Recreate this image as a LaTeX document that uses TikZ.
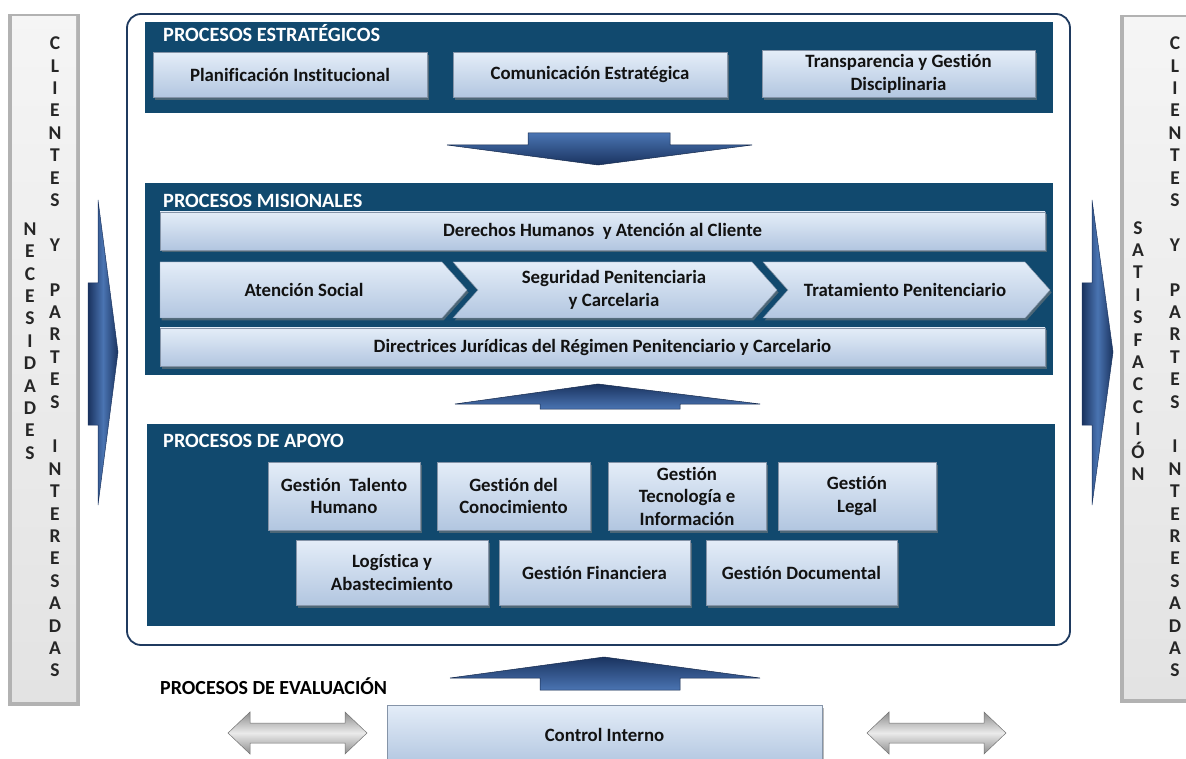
\documentclass[tikz,border=0pt]{standalone}
\usepackage{fontspec}
\setmainfont{Carlito}[Ligatures=NoCommon]
\usetikzlibrary{shadows}

\definecolor{panel}{HTML}{11496E}
\definecolor{framec}{HTML}{1F3A5F}
\definecolor{boxtop}{HTML}{E4EDF8}
\definecolor{boxbot}{HTML}{B2C6E0}
\definecolor{arrdark}{HTML}{1A335F}
\definecolor{arrlight}{HTML}{4A74B2}
\definecolor{txt}{HTML}{121212}

\begin{document}
\begin{tikzpicture}[x=1pt,y=-1pt,
  panelbox/.style={fill=panel, draw=none},
  ptitle/.style={text=white, font=\fontsize{20.3}{22}\selectfont\bfseries, anchor=west, inner sep=0pt},
  lightfill/.style={draw=boxbot!75!black, line width=0.4pt, top color=boxtop, bottom color=boxbot,
     drop shadow={shadow xshift=1.5pt, shadow yshift=-2.5pt, opacity=0.55}},
  lbox/.style={lightfill, rectangle, text=txt, font=\fontsize{18.8}{22.5}\selectfont\bfseries, align=center, inner sep=0pt},
  btext/.style={text=txt, font=\fontsize{18.8}{22.5}\selectfont\bfseries, align=center, inner sep=0pt},
  coltext/.style={text=black!85, font=\fontsize{19.5}{22.4}\selectfont\bfseries, align=center, inner sep=0pt},
  sidecol/.style={fill=black!30, draw=none},
  sideinner/.style={top color=black!4, bottom color=black!11, draw=none},
  varrow/.style={left color=arrdark, right color=arrdark, middle color=arrlight, draw=arrdark, line width=0.5pt},
  downarrow/.style={top color=arrlight, bottom color=arrdark, draw=arrdark!80!black, line width=0.5pt},
  uparrow/.style={top color=arrdark, bottom color=arrlight, draw=arrdark!80!black, line width=0.5pt},
  grayarrow/.style={top color=black!45, bottom color=black!45, middle color=black!8, draw=black!55, line width=0.5pt}
]
\useasboundingbox (0,0) rectangle (1186,759);

% ---------- side columns ----------
\path[sidecol] (8,14) rectangle (80,706);
\path[sideinner] (12,17) rectangle (76,701);
\node[coltext] (lneed) at (30,341) {N\\E\\C\\E\\S\\I\\D\\A\\D\\E\\S};
\node[coltext] (lcli) at (55,357) {C\\L\\I\\E\\N\\T\\E\\S\\~\\Y\\~\\P\\A\\R\\T\\E\\S\\~\\I\\N\\T\\E\\R\\E\\S\\A\\D\\A\\S};

\path[sidecol] (1120,15) rectangle (1186,703);
\path[sideinner] (1124,18) rectangle (1186,698);
\node[coltext] (rsat) at (1138,351) {S\\A\\T\\I\\S\\F\\A\\C\\C\\I\\Ó\\N};
\node[coltext] (rcli) at (1175,357) {C\\L\\I\\E\\N\\T\\E\\S\\~\\Y\\~\\P\\A\\R\\T\\E\\S\\~\\I\\N\\T\\E\\R\\E\\S\\A\\D\\A\\S};

% ---------- side blue arrows ----------
\path[varrow] (88,283) -- (98,283) -- (98,200) -- (118,352) -- (98,505) -- (98,425) -- (88,425) -- cycle;
\path[varrow] (1082,283) -- (1092,283) -- (1092,200) -- (1113,352) -- (1092,505) -- (1092,425) -- (1082,425) -- cycle;

% ---------- main frame ----------
\draw[framec, line width=1.8pt, rounded corners=14pt] (127,14) rectangle (1070,645);

% ---------- strategic ----------
\path[panelbox] (145,22) rectangle (1053,113);
\node[ptitle] (tstrat) at (163,33) {PROCESOS ESTRATÉGICOS};
\node[lbox, minimum width=274, minimum height=45] (plan) at (290,75) {Planificación Institucional};
\node[lbox, minimum width=274, minimum height=45] (comu) at (590,75) {Comunicación Estratégica};
\node[lbox, minimum width=273, minimum height=47] (trans) at (898.5,74) {Transparencia y Gestión\\Disciplinaria};

% down arrow
\path[downarrow] (447,145) -- (528,145) -- (528,133) -- (670,133) -- (670,145) -- (752,145) -- (598,165) -- cycle;

% ---------- misional ----------
\path[panelbox] (145,183) rectangle (1053,375);
\node[ptitle] (tmis) at (163,201) {PROCESOS MISIONALES};
\node[lbox, minimum width=885, minimum height=38] (ddhh) at (602.5,231) {Derechos Humanos~ y Atención al Cliente};
\path[lightfill] (160,262) -- (442,262) -- (467,290) -- (442,318) -- (160,318) -- cycle;
\node[btext] (aten) at (304,290) {Atención Social};
\path[lightfill] (453,262) -- (752,262) -- (777,290) -- (752,318) -- (453,318) -- (478,290) -- cycle;
\node[btext] (segu) at (614,290) {Seguridad Penitenciaria\\y Carcelaria};
\path[lightfill] (763,262) -- (1025,262) -- (1050,290) -- (1025,318) -- (763,318) -- (788,290) -- cycle;
\node[btext] (trat) at (905,290) {Tratamiento Penitenciario};
\node[lbox, minimum width=885, minimum height=38] (direc) at (602.5,347) {Directrices Jurídicas del Régimen Penitenciario y Carcelario};

% up arrow
\path[uparrow] (455,404) -- (598,384) -- (760,404) -- (680,404) -- (680,409) -- (540,409) -- (540,404) -- cycle;

% ---------- apoyo ----------
\path[panelbox] (147,424) rectangle (1055,626);
\node[ptitle] (tapo) at (163,441) {PROCESOS DE APOYO};
\node[lbox, minimum width=152, minimum height=68] (tal) at (344,496) {Gestión~~Talento\\Humano};
\node[lbox, minimum width=153, minimum height=68] (cono) at (513.5,496) {Gestión del\\Conocimiento};
\node[lbox, minimum width=158, minimum height=68] (tec) at (687,496) {Gestión\\Tecnología e\\Información};
\node[lbox, minimum width=158, minimum height=68] (leg) at (857,496) {Gestión\\Legal};
\node[lbox, minimum width=192, minimum height=65] (log) at (392,572.5) {Logística y\\Abastecimiento};
\node[lbox, minimum width=191, minimum height=65] (fin) at (594.5,572.5) {Gestión Financiera};
\node[lbox, minimum width=191, minimum height=65] (doc) at (801.5,572.5) {Gestión Documental};

% ---------- evaluation ----------
\path[uparrow] (450,678) -- (604,657) -- (760,678) -- (680,678) -- (680,690) -- (540,690) -- (540,678) -- cycle;
\node[anchor=west, inner sep=0pt, text=black, font=\fontsize{20}{22}\selectfont\bfseries] (teval) at (160,686) {PROCESOS DE EVALUACIÓN};
\node[lbox, minimum width=435, minimum height=60, drop shadow={opacity=0}] (ctrl) at (604.5,735) {Control Interno};

\path[grayarrow] (228,733) -- (250,712) -- (250,723) -- (345,723) -- (345,712) -- (367,733) -- (345,754) -- (345,743) -- (250,743) -- (250,754) -- cycle;
\path[grayarrow] (867,733) -- (889,712) -- (889,723) -- (984,723) -- (984,712) -- (1006,733) -- (984,754) -- (984,743) -- (889,743) -- (889,754) -- cycle;
\end{tikzpicture}
\end{document}
